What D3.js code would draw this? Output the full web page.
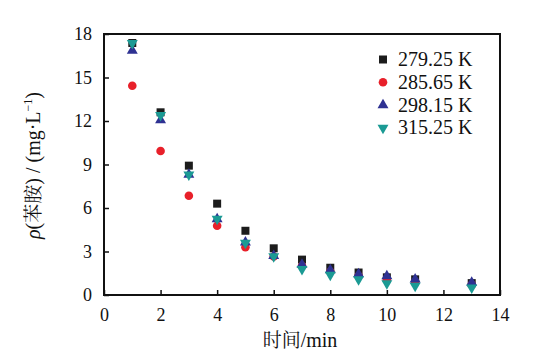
<!DOCTYPE html>
<html><head><meta charset="utf-8">
<script src="https://cdn.jsdelivr.net/npm/d3@7/dist/d3.min.js"></script>
<style>body{margin:0;background:#fff}svg{display:block}</style>
</head><body>
<svg id="c" width="536" height="360"></svg>
<script>
const times = [1,2,3,4,5,6,7,8,9,10,11,13];
const seriesNames = ["279.25 K","285.65 K","298.15 K","315.25 K"];
const s279 = [17.38,12.6,8.92,6.3,4.43,3.22,2.44,1.88,1.55,1.22,1.08,0.82];
const s285 = [14.43,9.93,6.85,4.78,3.29,2.65,2.0,1.6,1.3,1.03,0.9,0.7];
const s298 = [16.85,12.07,8.3,5.24,3.63,2.7,2.1,1.72,1.45,1.31,1.08,0.85];
const s315 = [17.36,12.4,8.3,5.24,3.6,2.66,1.78,1.38,1.08,0.8,0.62,0.5];
const xTicks = [0,2,4,6,8,10,12,14];
const yTicks = [0,3,6,9,12,15,18];
const colors = ["#1c1c1c","#e8202a","#2e3192","#1b9a94"];
const shapes = [d3.symbolSquare, d3.symbolCircle, d3.symbolTriangle, "down"];
const allSeries = [s279,s285,s298,s315];

const svg = d3.select("#c");
const m = {l:104, r:500, t:34, b:295};
const x = d3.scaleLinear().domain([0,14]).range([m.l,m.r]);
const y = d3.scaleLinear().domain([0,18]).range([m.b,m.t]);
const serif = '"Liberation Serif","Times New Roman",serif';
const cjk = '"Noto Serif CJK SC","Noto Sans CJK SC",serif';

function sym(i){
  if (shapes[i]==="down") return d3.symbol(d3.symbolTriangle).size(52)();
  const sz = i===0?64:(i===1?58:52);
  return d3.symbol(shapes[i]).size(sz)();
}

svg.append("rect").attr("x",m.l).attr("y",m.t).attr("width",m.r-m.l).attr("height",m.b-m.t)
  .attr("fill","none").attr("stroke","#111").attr("stroke-width",2);

const xa = svg.append("g").attr("transform",`translate(0,${m.b})`)
  .call(d3.axisBottom(x).tickValues(xTicks).tickSize(-5).tickPadding(13).tickFormat(d3.format("d")));
xa.attr("font-family",null);
xa.select(".domain").remove();
xa.selectAll("line").attr("stroke","#111").attr("stroke-width",1.5);
xa.selectAll("text").style("font-family",serif).style("font-size","18px").attr("fill","#111");

const ya = svg.append("g").attr("transform",`translate(${m.l},0)`)
  .call(d3.axisLeft(y).tickValues(yTicks).tickSize(-5).tickPadding(12).tickFormat(d3.format("d")));
ya.attr("font-family",null);
ya.select(".domain").remove();
ya.selectAll("line").attr("stroke","#111").attr("stroke-width",1.5);
ya.selectAll("text").style("font-family",serif).style("font-size","18px").attr("fill","#111");

allSeries.forEach((vals,i)=>{
  svg.append("g").selectAll("path").data(times.map((t,k)=>({t,v:vals[k]})))
    .join("path")
    .attr("d", sym(i))
    .attr("transform", d=>`translate(${x(d.t)},${y(d.v)})${shapes[i]==="down"?" rotate(180)":""}`)
    .attr("fill", colors[i]);
});

const lg = svg.append("g");
seriesNames.forEach((n,i)=>{
  const yb = 66 + i*22.8;
  lg.append("path").attr("d",sym(i))
    .attr("transform",`translate(383,${yb-6.5})${shapes[i]==="down"?" rotate(180)":""}`)
    .attr("fill",colors[i]);
  lg.append("text").attr("x",398).attr("y",yb).text(n)
    .style("font-family",serif).style("font-size","20px").attr("fill","#111");
});

svg.append("text").attr("x",x(7)-2).attr("y",347).attr("text-anchor","middle")
  .style("font-size","20px").style("font-family",serif).attr("fill","#111")
  .call(t=>{
    t.append("tspan").style("font-family",cjk).style("font-size","19px").text("时间");
    t.append("tspan").text("/min");
  });

const yl = svg.append("text").attr("transform",`translate(40,${(m.t+m.b)/2+1}) rotate(-90)`)
  .attr("text-anchor","middle").style("font-family",serif).style("font-size","20px").attr("fill","#111");
yl.append("tspan").style("font-style","italic").text("ρ");
yl.append("tspan").text("(");
yl.append("tspan").style("font-family",cjk).style("font-size","19px").text("苯胺");
yl.append("tspan").text(") / (mg·L");
yl.append("tspan").attr("dy",-8).style("font-size","12px").text("−1");
yl.append("tspan").attr("dy",8).text(")");
</script>
</body></html>
